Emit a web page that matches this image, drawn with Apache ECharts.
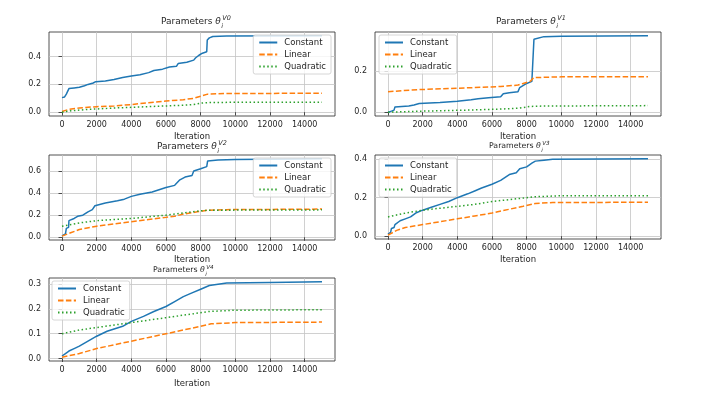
<!DOCTYPE html>
<html>
<head>
<meta charset="utf-8">
<script src="https://cdn.jsdelivr.net/npm/echarts@6/dist/echarts.min.js"></script>
<style>
  html, body { margin: 0; padding: 0; background: #fff; }
  #chart { width: 704px; height: 398px; }
</style>
</head>
<body>
<div id="chart"></div>
<script>
// values, as [iteration, value]
var constV0 = [[0,0.105],[150,0.11],[250,0.13],[350,0.14],[400,0.17],[700,0.175],[1000,0.18],[1300,0.19],[1500,0.20],[1800,0.21],[1950,0.22],[2500,0.225],[3000,0.235],[3500,0.25],[4000,0.26],[4500,0.27],[5000,0.285],[5300,0.30],[5800,0.31],[6200,0.325],[6600,0.33],[6700,0.35],[7200,0.36],[7600,0.375],[7700,0.39],[7900,0.41],[8100,0.425],[8350,0.435],[8380,0.52],[8500,0.535],[8700,0.545],[9500,0.548],[15000,0.55]];
var linV0 = [[0,0.005],[400,0.02],[1000,0.03],[2000,0.04],[3000,0.045],[4000,0.055],[5000,0.068],[6000,0.08],[7000,0.09],[7600,0.10],[8000,0.115],[8400,0.13],[9000,0.133],[10000,0.135],[15000,0.136]];
var quadV0 = [[0,0.0],[500,0.01],[1500,0.02],[3000,0.03],[5000,0.04],[7000,0.05],[7600,0.055],[8000,0.065],[8500,0.07],[10000,0.071],[15000,0.072]];

var constV1 = [[0,0.0],[200,0.005],[350,0.01],[400,0.025],[1200,0.03],[1500,0.035],[1800,0.042],[3000,0.047],[4000,0.053],[4800,0.06],[5200,0.065],[5800,0.07],[6500,0.075],[6650,0.09],[7000,0.095],[7500,0.10],[7600,0.12],[8000,0.14],[8300,0.15],[8400,0.155],[8420,0.355],[8500,0.363],[9000,0.368],[10000,0.37],[15000,0.372]];
var linV1 = [[0,0.10],[1800,0.11],[3500,0.115],[5000,0.12],[6500,0.125],[7500,0.132],[7800,0.14],[8200,0.15],[8400,0.168],[9000,0.17],[10000,0.172],[15000,0.173]];
var quadV1 = [[0,0.0],[2000,0.005],[4500,0.01],[6500,0.015],[7600,0.02],[8200,0.028],[9000,0.03],[15000,0.032]];

var constV2 = [[0,0.012],[200,0.03],[250,0.08],[380,0.09],[400,0.15],[700,0.17],[900,0.19],[1200,0.20],[1500,0.23],[1750,0.25],[1900,0.285],[2500,0.31],[3200,0.33],[3600,0.345],[4000,0.37],[4500,0.39],[5200,0.41],[5600,0.43],[6000,0.45],[6500,0.47],[6800,0.52],[7100,0.545],[7500,0.56],[7600,0.60],[8000,0.62],[8350,0.64],[8400,0.69],[9000,0.70],[10000,0.705],[15000,0.71]];
var linV2 = [[0,0.01],[500,0.04],[1000,0.07],[2000,0.10],[3000,0.12],[4000,0.14],[5000,0.16],[6000,0.18],[6500,0.19],[7000,0.21],[7800,0.23],[8400,0.245],[9500,0.25],[15000,0.255]];
var quadV2 = [[0,0.10],[1000,0.13],[2000,0.15],[4000,0.17],[6000,0.20],[7000,0.22],[8000,0.24],[8500,0.245],[15000,0.248]];

var constV3 = [[0,0.01],[150,0.02],[200,0.04],[350,0.045],[400,0.06],[700,0.08],[1000,0.09],[1300,0.10],[1600,0.12],[2000,0.135],[2500,0.15],[3000,0.165],[3500,0.18],[4000,0.20],[4600,0.22],[5000,0.235],[5400,0.25],[6000,0.27],[6500,0.29],[7000,0.32],[7400,0.33],[7600,0.35],[8000,0.36],[8300,0.38],[8500,0.39],[9000,0.395],[9500,0.40],[15000,0.402]];
var linV3 = [[0,0.005],[500,0.03],[1000,0.045],[2000,0.06],[3000,0.075],[4000,0.09],[5000,0.105],[6000,0.12],[7000,0.14],[7800,0.155],[8500,0.17],[9500,0.175],[15000,0.176]];
var quadV3 = [[0,0.10],[1000,0.12],[2000,0.135],[3500,0.15],[5000,0.165],[6000,0.18],[7500,0.195],[8500,0.205],[10000,0.21],[15000,0.21]];

var constV4 = [[0,0.01],[200,0.02],[400,0.03],[700,0.04],[1000,0.05],[1500,0.07],[2000,0.09],[2600,0.11],[3500,0.13],[4000,0.15],[4700,0.17],[5300,0.19],[6000,0.21],[6500,0.23],[7000,0.25],[7500,0.265],[8000,0.28],[8500,0.295],[9000,0.30],[9500,0.305],[12000,0.307],[15000,0.31]];
var linV4 = [[0,0.005],[1000,0.02],[2000,0.04],[3000,0.055],[4000,0.07],[5000,0.085],[6000,0.10],[7000,0.115],[8000,0.13],[8600,0.14],[10000,0.145],[15000,0.147]];
var quadV4 = [[0,0.10],[1000,0.115],[2000,0.125],[3000,0.135],[4000,0.145],[5000,0.155],[6000,0.165],[7000,0.175],[8500,0.19],[10000,0.195],[15000,0.197]];

var seriesNames = ["Constant", "Linear", "Quadratic"];
var panelLabels = ["V0", "V1", "V2", "V3", "V4"];
var xTicks = [0, 2000, 4000, 6000, 8000, 10000, 12000, 14000];
var yTicks = [[0, 0.2, 0.4], [0, 0.2], [0, 0.2, 0.4, 0.6], [0, 0.2, 0.4], [0, 0.1, 0.2, 0.3]];

var panelData = [
  [constV0, linV0, quadV0],
  [constV1, linV1, quadV1],
  [constV2, linV2, quadV2],
  [constV3, linV3, quadV3],
  [constV4, linV4, quadV4]
];

var colors = ["#1f77b4", "#ff7f0e", "#2ca02c"];
var lineTypes = ["solid", [5.5, 2.4], [1.5, 2.5]];
var font = "DejaVu Sans";
var ink = "#262626";

// grid boxes: left, top, width, height
var boxes = [
  [49, 32, 286, 84],
  [375, 32, 286, 84],
  [49, 155, 286, 85],
  [375, 155, 286, 84],
  [49, 278, 286, 83]
];
var legendPos = [
  { right: 373, top: 35 },
  { left: 379, top: 35 },
  { right: 373, top: 158 },
  { left: 379, top: 158 },
  { left: 52, top: 281 }
];
var titlePos = [[161, 23, 9], [496, 23, 9], [157, 148, 9], [489, 147, 7.8], [153, 271, 7.8]];
var nameGaps = [16, 16, 15, 16, 18];

// matplotlib style 5% margins
function dataRange(list) {
  var lo = Infinity, hi = -Infinity;
  list.forEach(function (s) {
    s.forEach(function (p) { lo = Math.min(lo, p[1]); hi = Math.max(hi, p[1]); });
  });
  var m = (hi - lo) * 0.05;
  return [lo - m, hi + m];
}

var grids = [], xAxes = [], yAxes = [], series = [], legends = [], graphics = [];

boxes.forEach(function (b, i) {
  grids.push({
    left: b[0], top: b[1], width: b[2], height: b[3],
    show: true, borderColor: ink, borderWidth: 0.8, backgroundColor: "transparent"
  });
  xAxes.push({
    type: "value", gridIndex: i, min: -750, max: 15750,
    name: "Iteration", nameLocation: "middle", nameGap: nameGaps[i],
    nameTextStyle: { fontFamily: font, fontSize: 8.5, color: ink },
    axisLine: { show: false },
    axisTick: { show: true, customValues: xTicks, length: 3.5, lineStyle: { color: ink, width: 0.8 } },
    axisLabel: {
      customValues: xTicks, fontFamily: font, fontSize: 8, color: ink, margin: 5,
      formatter: function (v) { return String(v); }
    },
    splitLine: { show: true, customValues: xTicks, lineStyle: { color: "#c4c4c4", width: 0.8 } }
  });
  var r = dataRange(panelData[i]);
  yAxes.push({
    type: "value", gridIndex: i, min: r[0], max: r[1],
    axisLine: { show: false },
    axisTick: { show: true, customValues: yTicks[i], length: 3.5, lineStyle: { color: ink, width: 0.8 } },
    axisLabel: {
      customValues: yTicks[i], fontFamily: font, fontSize: 8, color: ink, margin: 8,
      formatter: function (v) { return v.toFixed(1); }
    },
    splitLine: { show: true, customValues: yTicks[i], lineStyle: { color: "#c4c4c4", width: 0.8 } }
  });
  panelData[i].forEach(function (d, k) {
    series.push({
      type: "line", name: seriesNames[k], xAxisIndex: i, yAxisIndex: i,
      data: d, symbol: "none", animation: false, z: 2 + k,
      lineStyle: { color: colors[k], width: 1.5, type: lineTypes[k] },
      itemStyle: { color: colors[k] }
    });
  });
  legends.push(Object.assign({
    orient: "vertical", data: seriesNames,
    itemWidth: 18, itemHeight: 10, itemGap: 3,
    padding: [3, 5, 3, 5],
    borderColor: "#cccccc", borderWidth: 0.8, borderRadius: 2,
    backgroundColor: "rgba(255,255,255,0.8)",
    itemStyle: { opacity: 0 },
    textStyle: { fontFamily: font, fontSize: 8.5, color: ink, padding: [0, 0, 0, 2] },
    selectedMode: false
  }, legendPos[i]));

  var t = titlePos[i], fs = t[2], w = fs * 6.7;
  graphics.push({
    type: "text", left: t[0], top: t[1] - fs * 0.6,
    style: {
      text: "Parameters {th|θ}", fontFamily: font, fontSize: fs, fill: ink,
      rich: { th: { fontFamily: font, fontStyle: "italic", fontSize: fs, fill: ink } }
    }
  });
  graphics.push({
    type: "text", left: t[0] + w + 1, top: t[1] - fs * 0.85,
    style: { text: panelLabels[i], fontFamily: font, fontStyle: "italic", fontSize: fs * 0.72, fill: ink }
  });
  graphics.push({
    type: "text", left: t[0] + w, top: t[1] + fs * 0.05,
    style: { text: "i", fontFamily: font, fontStyle: "italic", fontSize: fs * 0.72, fill: ink }
  });
});

var chart = echarts.init(document.getElementById("chart"));
chart.setOption({
  backgroundColor: "#ffffff",
  animation: false,
  grid: grids,
  xAxis: xAxes,
  yAxis: yAxes,
  legend: legends,
  series: series,
  graphic: graphics
});
</script>
</body>
</html>
